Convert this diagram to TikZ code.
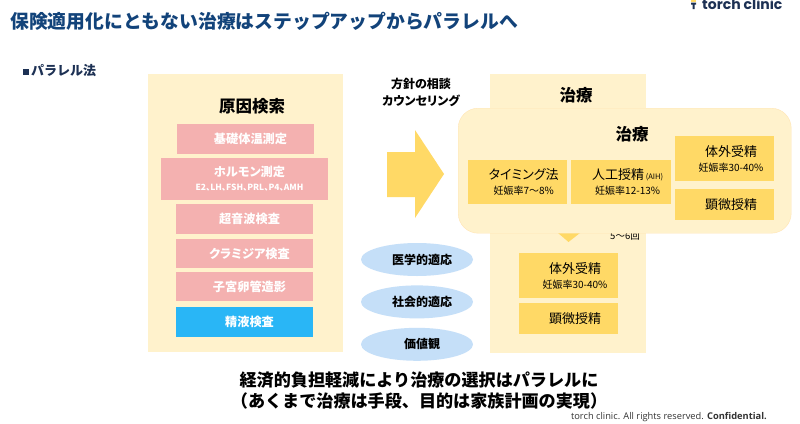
\documentclass[tikz,border=0pt]{standalone}
\usepackage{fontspec}
\setmainfont{Noto Sans CJK JP}
\newfontfamily\paltfont[RawFeature=+palt]{Noto Sans CJK JP}
\newfontfamily\logofont{Poppins}
\newfontfamily\footfont{Open Sans}
\usepackage{xcolor}
\usetikzlibrary{positioning, shapes.geometric}
\definecolor{title_col}{RGB}{18, 67, 122}
\definecolor{navy_col}{RGB}{29, 49, 84}
\definecolor{panel_col}{RGB}{255, 242, 204}
\definecolor{edge_col}{RGB}{255, 229, 180}
\definecolor{pink_col}{RGB}{244, 177, 176}
\definecolor{sky_col}{RGB}{41, 182, 246}
\definecolor{gold_col}{RGB}{255, 217, 102}
\definecolor{oval_col}{RGB}{197, 223, 248}
\newcommand{\testline}{\hspace*{10pt}}
\newcommand{\cureline}{\hspace*{13pt}}
\newcommand{\rateline}[1]{\\[-1pt]\cureline{\fontsize{10}{12}\selectfont #1}}
\tikzset{
  panelbox/.style={fill=panel_col, anchor=north west, inner sep=0pt},
  testbox/.style={fill=pink_col, text=white, font=\paltfont\bfseries\fontsize{12.2}{14}\selectfont,
    minimum width=137pt, minimum height=29.5pt, inner sep=0pt, align=center},
  curebox/.style={fill=gold_col, minimum width=99.5pt, minimum height=44.5pt,
    inner sep=0pt, align=center, font=\paltfont\fontsize{13}{16}\selectfont},
  talkoval/.style={ellipse, fill=oval_col, minimum width=112pt, minimum height=33pt,
    inner sep=0pt, font=\bfseries\fontsize{12}{14}\selectfont},
  headtext/.style={font=\bfseries\fontsize{16.5}{18}\selectfont, inner sep=0pt}
}
\begin{document}
\begin{tikzpicture}[x=1pt, y=-1pt]
  \useasboundingbox (0,0) rectangle (800,423);
  \fill[white] (0,0) rectangle (800,423);

  \node[anchor=west, inner sep=0pt, text=title_col,
        font=\bfseries\fontsize{18.8}{22}\selectfont] (title) at (10,21)
    {保険適用化にともない治療はステップアップからパラレルへ};

  % logo
  \node[anchor=base west, inner sep=0pt, text=navy_col,
        font=\logofont\bfseries\fontsize{14}{16}\selectfont] (logo) at (702,9.5) {torch clinic};
  \fill[navy_col] (691,2.5) rectangle (696,4.5) (692.5,4.5) rectangle (694.5,9);
  \fill[gold_col] (690.5,0) rectangle (696,1.5);

  \fill[navy_col] (23,69) rectangle (29,75);
  \node[anchor=west, inner sep=0pt, text=navy_col,
        font=\bfseries\fontsize{13}{15}\selectfont] (method) at (31,71) {パラレル法};

  % left panel
  \node[panelbox, minimum width=195pt, minimum height=278pt] (causepanel) at (148,74) {};
  \node[headtext] (causehead) at (252,106) {原因検索};
  \node[testbox] (basal) at (245.5,139) {\testline 基礎体温測定};
  \node[testbox, minimum width=167pt, minimum height=42pt] (hormone) at (244.5,179)
    {\testline ホルモン測定\\[0pt]\testline{\fontsize{8.5}{10}\selectfont E2、LH、FSH、PRL、P4、AMH}};
  \node[testbox, below=4pt of hormone] (echo) {\testline 超音波検査};
  \node[testbox, below=4.5pt of echo] (chlamydia) {\testline クラミジア検査};
  \node[testbox, below=3pt of chlamydia] (tube) {\testline 子宮卵管造影};
  \node[testbox, fill=sky_col, below=5.5pt of tube] (semen) {\testline 精液検査};

  % arrow and talk
  \fill[gold_col] (387,152) -- (415,152) -- (415,130) -- (444,174)
    -- (415,218) -- (415,197) -- (387,197) -- cycle;
  \node[inner sep=0pt, align=center, font=\paltfont\bfseries\fontsize{12}{17}\selectfont] (talk) at (421,92.5)
    {方針の相談\\カウンセリング};
  \node[talkoval] (medical) at (417,259.5) {\testline 医学的適応};
  \node[talkoval, below=9pt of medical] (social) {\testline 社会的適応};
  \node[talkoval, below=9pt of social] (values) {\testline 価値観};

  % right panel, under the rounded box
  \node[panelbox, minimum width=155.5pt, minimum height=279pt] (curepanel) at (490,74) {};
  \node[headtext] (curehead) at (576,95) {治療};
  \fill[gold_col] (558,233) -- (580,233) -- (568.5,242) -- cycle;
  \node[inner sep=0pt, font=\fontsize{9.5}{11}\selectfont] (times) at (625,236.5) {5～6回};
  \node[curebox] (ivfa) at (568.5,275.5) {\cureline 体外受精\rateline{妊娠率30-40\%}};
  \node[curebox, minimum height=31pt, below=5pt of ivfa] (icsia) {\cureline 顕微授精};

  % front rounded box
  \node[panelbox, draw=edge_col, rounded corners=20pt, minimum width=333pt,
        minimum height=125pt] (frontbox) at (458,108) {};
  \node[headtext] (fronthead) at (632,134) {治療};
  \node[curebox, minimum height=44pt] (timing) at (517.25,181.5)
    {\cureline タイミング法\rateline{妊娠率7～8\%}};
  \node[curebox, minimum height=44pt, right=4pt of timing] (aih)
    {\cureline 人工授精{\fontsize{7.5}{9}\selectfont\ (AIH)}\rateline{妊娠率12-13\%}};
  \node[curebox, minimum height=45pt] (ivfb) at (724.5,158.5)
    {\cureline 体外受精\rateline{妊娠率30-40\%}};
  \node[curebox, minimum height=31pt, below=8pt of ivfb] (icsib) {\cureline 顕微授精};

  % bottom text
  \node[inner sep=0pt, align=center, font=\bfseries\fontsize{17.1}{21.5}\selectfont] (summary) at (419,390.5)
    {経済的負担軽減により治療の選択はパラレルに\\（あくまで治療は手段、目的は家族計画の実現）};
  \node[anchor=east, inner sep=0pt, text=black!80, font=\footfont\fontsize{9.3}{11}\selectfont] (foot) at (767,417.5)
    {torch clinic. All rights reserved. \textbf{Confidential.}};
\end{tikzpicture}
\end{document}
